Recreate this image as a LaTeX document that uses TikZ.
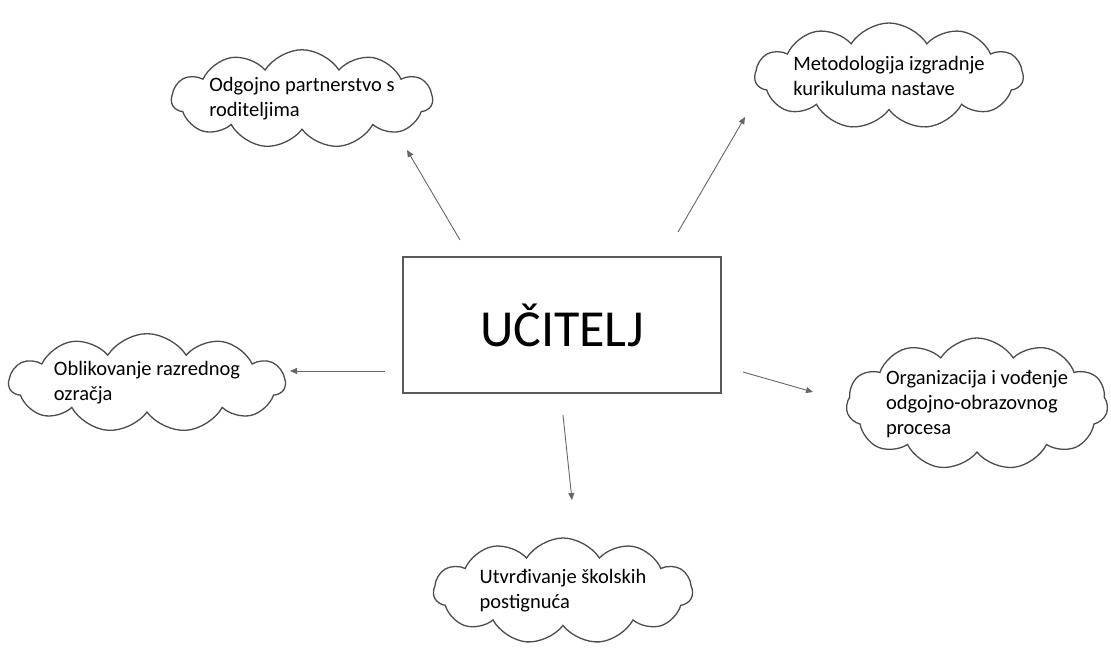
\documentclass[tikz,border=0pt]{standalone}
\usepackage{fontspec}
\setmainfont{Carlito}
\usetikzlibrary{shapes.symbols,arrows.meta}

\begin{document}
\begin{tikzpicture}[x=1pt,y=-1pt,>={Triangle[length=7pt,width=6pt]},
  main node/.style={rectangle,draw=black!65,line width=1.8pt,minimum width=318pt,minimum height=136pt,font=\fontsize{52}{60}\selectfont},
  cloud node/.style={cloud,cloud puffs=11,cloud puff arc=115,cloud ignores aspect,draw=black!70,line width=1.3pt,inner sep=0pt,align=left,font=\fontsize{20.5}{25}\selectfont},
  link/.style={->,draw=black!60,line width=0.9pt}]

  \useasboundingbox (0,0) rectangle (1111,651);

  \node[main node] (u) at (562,325) {UČITELJ};

  \node[cloud node,minimum width=258pt,minimum height=96pt] (rod) at (302,99) {Odgojno partnerstvo s\\roditeljima};
  \node[cloud node,minimum width=258pt,minimum height=106pt] (kur) at (889,76) {Metodologija izgradnje\\kurikuluma nastave};
  \node[cloud node,minimum width=276pt,minimum height=86pt] (raz) at (147,383) {Oblikovanje razrednog\\ozračja};
  \node[cloud node,minimum width=260pt,minimum height=132pt] (org) at (977,404) {Organizacija i vođenje\\odgojno-obrazovnog\\procesa};
  \node[cloud node,minimum width=259pt,minimum height=106pt] (pos) at (563,591) {Utvrđivanje školskih\\postignuća};

  % arrow ends
  \coordinate (a1) at (460,240); \coordinate (b1) at (407,150);
  \coordinate (a2) at (678,232); \coordinate (b2) at (745,117);
  \coordinate (a3) at (385,371); \coordinate (b3) at (290,371);
  \coordinate (a4) at (743,372); \coordinate (b4) at (813,392);
  \coordinate (a5) at (563,415); \coordinate (b5) at (572,500);

  \draw[link] (a1) -- (b1);
  \draw[link] (a2) -- (b2);
  \draw[link] (a3) -- (b3);
  \draw[link] (a4) -- (b4);
  \draw[link] (a5) -- (b5);
\end{tikzpicture}
\end{document}
